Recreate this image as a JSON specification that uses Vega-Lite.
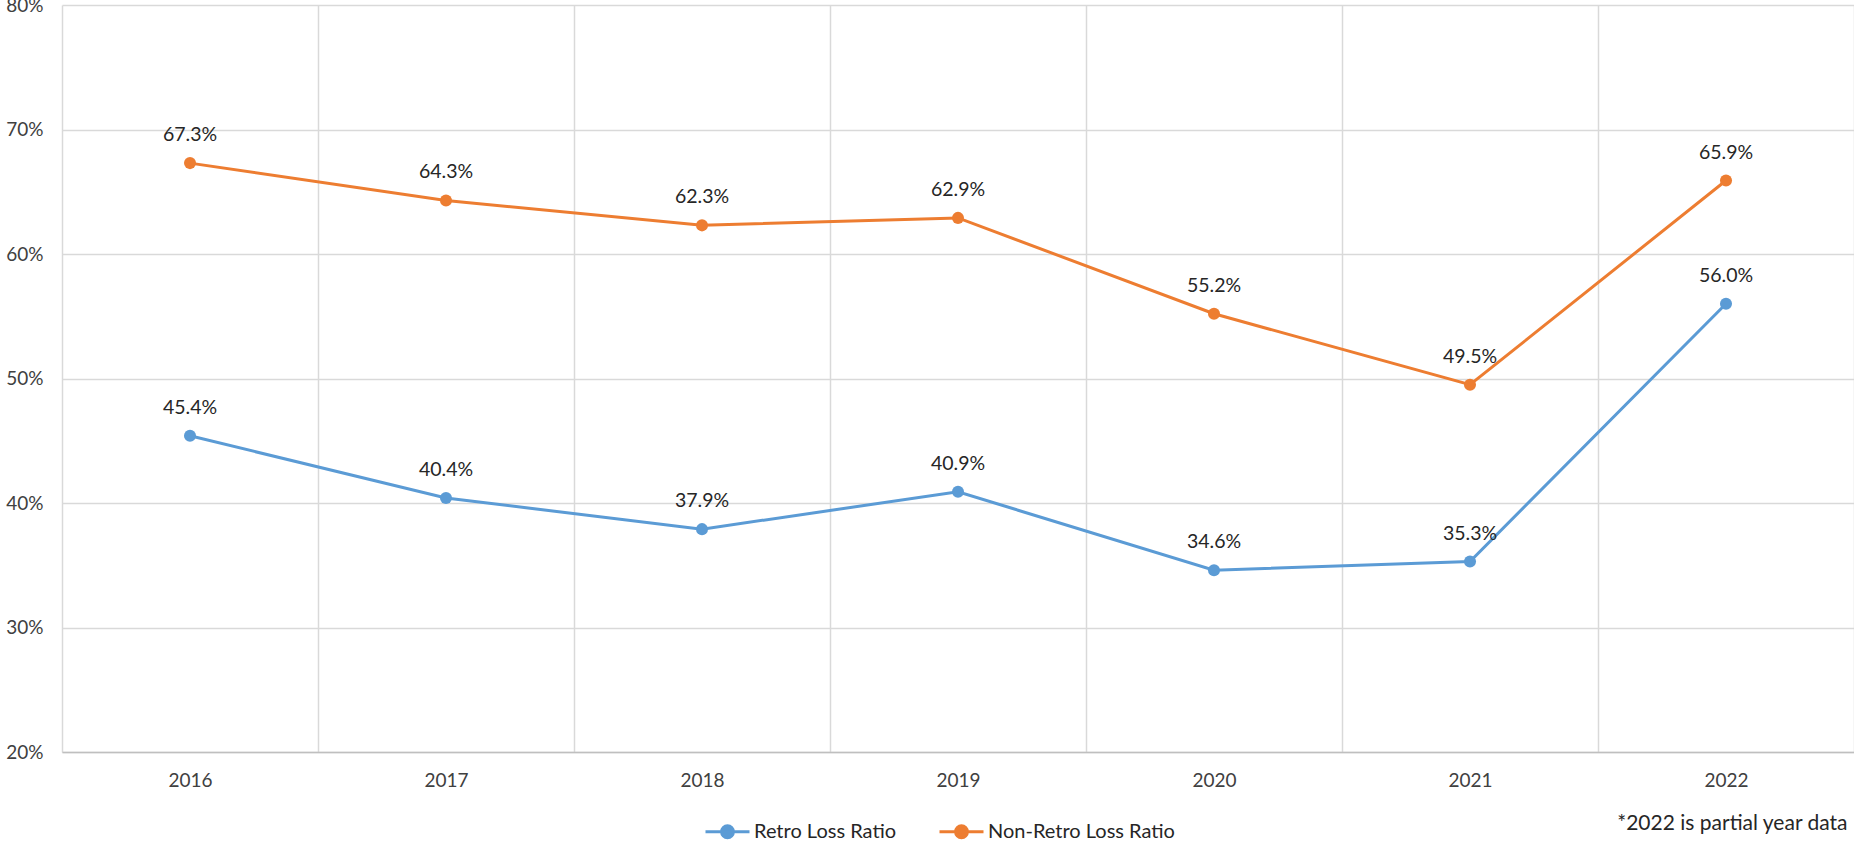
{
  "$schema": "https://vega.github.io/schema/vega-lite/v6.json",
  "width": 1792,
  "height": 747,
  "autosize": "none",
  "padding": {"left": 62, "top": 5, "right": 0, "bottom": 94},
  "background": "white",
  "config": {
    "font": "Lato",
    "view": {"stroke": null},
    "axis": {"labelFont": "Lato", "labelFontSize": 19, "labelColor": "#404040", "gridColor": "#d9d9d9", "gridWidth": 1.5, "ticks": false}
  },
  "data": {
    "values": [
      {"year": "2016", "series": "Retro Loss Ratio", "ratio": 0.454},
      {"year": "2017", "series": "Retro Loss Ratio", "ratio": 0.404},
      {"year": "2018", "series": "Retro Loss Ratio", "ratio": 0.379},
      {"year": "2019", "series": "Retro Loss Ratio", "ratio": 0.409},
      {"year": "2020", "series": "Retro Loss Ratio", "ratio": 0.346},
      {"year": "2021", "series": "Retro Loss Ratio", "ratio": 0.353},
      {"year": "2022", "series": "Retro Loss Ratio", "ratio": 0.560},
      {"year": "2016", "series": "Non-Retro Loss Ratio", "ratio": 0.673},
      {"year": "2017", "series": "Non-Retro Loss Ratio", "ratio": 0.643},
      {"year": "2018", "series": "Non-Retro Loss Ratio", "ratio": 0.623},
      {"year": "2019", "series": "Non-Retro Loss Ratio", "ratio": 0.629},
      {"year": "2020", "series": "Non-Retro Loss Ratio", "ratio": 0.552},
      {"year": "2021", "series": "Non-Retro Loss Ratio", "ratio": 0.495},
      {"year": "2022", "series": "Non-Retro Loss Ratio", "ratio": 0.659}
    ]
  },
  "encoding": {
    "x": {
      "field": "year",
      "type": "ordinal",
      "scale": {"type": "band", "paddingInner": 0, "paddingOuter": 0},
      "axis": {
        "title": "*2022 is partial year data",
        "titleFont": "Lato",
        "titleFontSize": 21,
        "titleFontWeight": "normal",
        "titleColor": "#262626",
        "titleAlign": "right",
        "titleBaseline": "middle",
        "titleX": 1785,
        "titleY": 71,
        "labelAngle": 0,
        "labelPadding": 19,
        "grid": true,
        "tickBand": "extent",
        "domainColor": "#bfbfbf",
        "domainWidth": 1.5
      }
    },
    "y": {
      "field": "ratio",
      "type": "quantitative",
      "scale": {"domain": [0.2, 0.8], "nice": false},
      "axis": {"title": null, "format": ".0%", "values": [0.2, 0.3, 0.4, 0.5, 0.6, 0.7, 0.8], "domain": false, "labelPadding": 19}
    },
    "color": {
      "field": "series",
      "type": "nominal",
      "scale": {"domain": ["Retro Loss Ratio", "Non-Retro Loss Ratio"], "range": ["#5B9BD5", "#ED7D31"]},
      "legend": {
        "title": null,
        "orient": "none",
        "direction": "horizontal",
        "legendX": 642,
        "legendY": 803,
        "labelFont": "Lato",
        "labelFontSize": 20,
        "labelColor": "#262626",
        "labelOffset": 3,
        "labelLimit": 400,
        "columnPadding": 36,
        "symbolType": "M-1,0H1M0.27,0A0.27,0.27,0,1,1,-0.27,0A0.27,0.27,0,1,1,0.27,0",
        "symbolSize": 1936,
        "symbolStrokeWidth": 3,
        "encode": {"symbols": {"update": {"fill": {"scale": "color", "field": "value"}, "stroke": {"scale": "color", "field": "value"}}}}
      }
    }
  },
  "layer": [
    {"mark": {"type": "line", "strokeWidth": 3}},
    {"mark": {"type": "point", "filled": true, "size": 145, "opacity": 1}},
    {"mark": {"type": "text", "dy": -28, "fontSize": 19.5, "font": "Lato", "color": "#262626"}, "encoding": {"text": {"field": "ratio", "format": ".1%"}, "color": {"value": "#262626"}}}
  ]
}
